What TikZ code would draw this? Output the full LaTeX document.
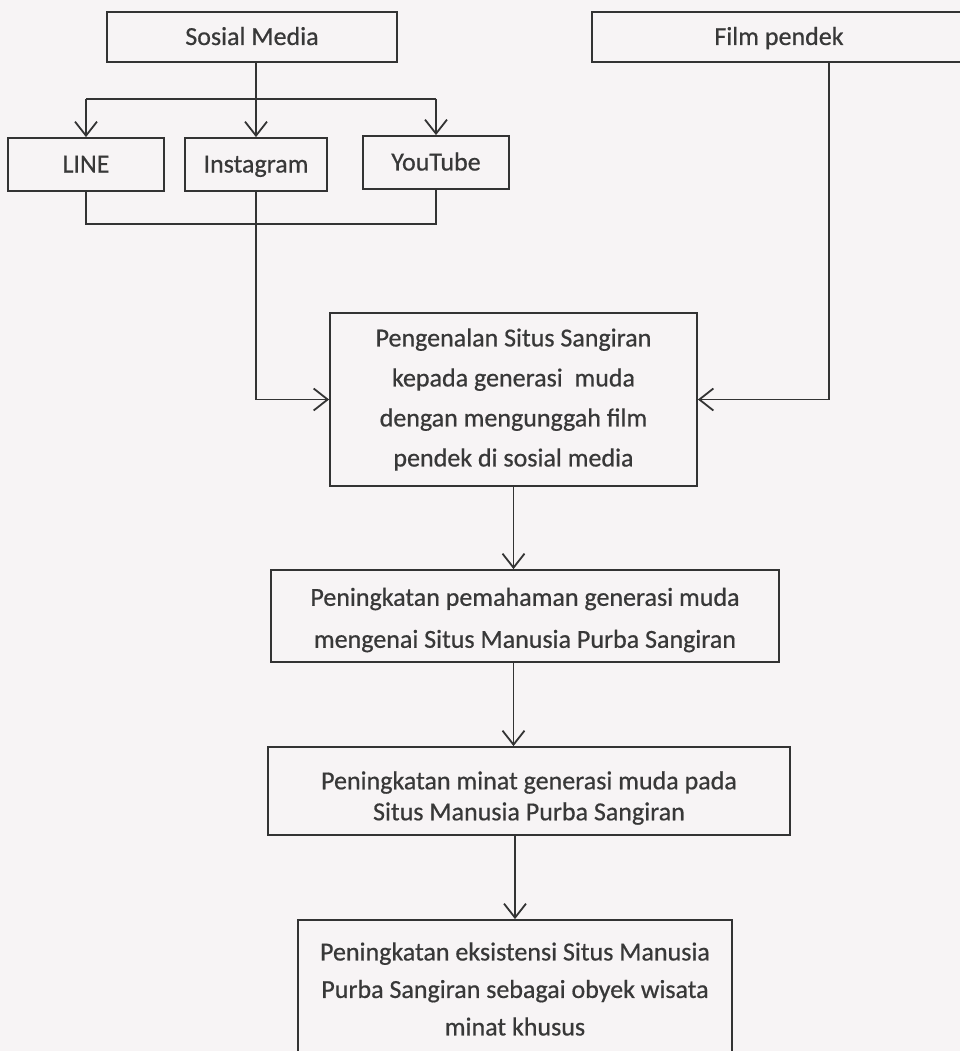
\documentclass[tikz,border=0pt]{standalone}
\usepackage{fontspec}
\setmainfont{Carlito}[RawFeature={embolden=0.6}]
\usetikzlibrary{arrows.meta}
\definecolor{bg}{HTML}{F7F4F5}
\definecolor{ink}{HTML}{333333}
\definecolor{txt}{HTML}{383838}
\tikzset{
  box/.style={draw=ink, line width=1.8pt, rectangle, inner sep=0pt, text=txt, align=center,
    font=\fontsize{26}{40}\selectfont},
  onebox/.style={box, text height=20pt, text depth=4pt},
  label text/.style={inner sep=0pt, text=txt, align=center, font=\fontsize{26}{40}\selectfont},
  conn/.style={draw=ink, line width=1.8pt},
  arr/.style={conn, -{Straight Barb[length=14pt,width=22pt,line width=1.8pt]}}
}
\begin{document}
\begin{tikzpicture}[x=1pt,y=-1pt]
\useasboundingbox[fill=bg] (0,0) rectangle (960,1051);
\clip (0,0) rectangle (960,1051);
\node[onebox, minimum width=290, minimum height=50] (sm) at (252,37) {Sosial Media};
\node[onebox, minimum width=374, minimum height=50] (fp) at (779,37) {Film pendek};
\node[onebox, minimum width=156, minimum height=53] (line) at (86,164.5) {LINE};
\node[onebox, minimum width=142, minimum height=53] (ig) at (256,164.5) {Instagram};
\node[onebox, minimum width=146, minimum height=53] (yt) at (436,162.5) {YouTube};
\node[box, minimum width=367, minimum height=173] (pg) at (513.5,399.5)
  {Pengenalan Situs Sangiran\\kepada generasi\ \ muda\\dengan mengunggah film\\pendek di sosial media};
\node[box, minimum width=508, minimum height=92] (p2) at (525,616) {};
\node[label text, font=\fontsize{26}{42}\selectfont] (p2t) at ([yshift=-4pt]p2.center)
  {Peningkatan pemahaman generasi muda\\mengenai Situs Manusia Purba Sangiran};
\node[box, minimum width=522, minimum height=88] (p3) at (529,791) {};
\node[label text, font=\fontsize{26}{31}\selectfont] (p3t) at ([yshift=-7pt]p3.center)
  {Peningkatan minat generasi muda pada\\Situs Manusia Purba Sangiran};
\node[box, minimum width=434, minimum height=138, font=\fontsize{26}{37.5}\selectfont] (p4) at (515,989)
  {Peningkatan eksistensi Situs Manusia\\Purba Sangiran sebagai obyek wisata\\minat khusus};
\coordinate (split) at (0,99);
\draw[arr] (sm.south -| ig.north) -- (ig.north);
\draw[conn] (split -| line.north) -- (split -| yt.north);
\draw[arr] (split -| line.north) -- (line.north);
\draw[arr] (split -| yt.north) -- (yt.north);
\draw[conn] (line.south) -- ++(0,32) -| (yt.south);
\draw[arr] (ig.south) |- (pg.west);
\draw[arr] ([xshift=50]fp.south) |- (pg.east);
\draw[arr] (pg.south) -- (p2.north -| pg.south);
\draw[arr] (p2.south -| pg.south) -- (p3.north -| pg.south);
\draw[arr] (p3.south -| p4.north) -- (p4.north);
\end{tikzpicture}
\end{document}
